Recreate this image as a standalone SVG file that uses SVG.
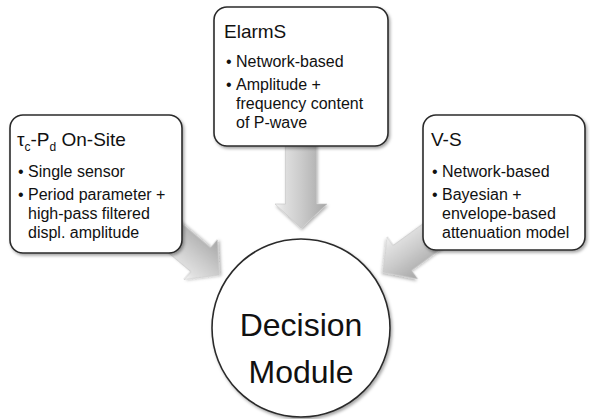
<svg xmlns="http://www.w3.org/2000/svg" width="590" height="419" viewBox="0 0 590 419">
  <defs>
    <linearGradient id="arrowFill" x1="0" y1="0" x2="1" y2="0">
      <stop offset="0" stop-color="#f4f4f4"/>
      <stop offset="0.18" stop-color="#e0e0e0"/>
      <stop offset="0.5" stop-color="#cbcbcb"/>
      <stop offset="1" stop-color="#a6a6a6"/>
    </linearGradient>
    <filter id="shadow" x="-20%" y="-20%" width="140%" height="140%">
      <feDropShadow dx="1.5" dy="2" stdDeviation="1.8" flood-color="#000" flood-opacity="0.35"/>
    </filter>
    <filter id="arrowShadow" x="-30%" y="-30%" width="160%" height="160%">
      <feDropShadow dx="1" dy="2" stdDeviation="1.5" flood-color="#000" flood-opacity="0.3"/>
    </filter>
    <!-- block arrow pointing down, tip at the origin -->
    <polygon id="blockArrow" points="-15.5,-110 15.5,-110 15.5,-24 26,-24 0,0 -26,-24 -15.5,-24"/>
    <style>
      .box { fill: #ffffff; stroke: #2b2b2b; stroke-width: 1.6; filter: url(#shadow); }
      .arrow { fill: url(#arrowFill); stroke: #c4c4c4; stroke-width: 0.6; filter: url(#arrowShadow); }
      .title { font-family: "Liberation Sans", Arial, sans-serif; font-size: 19px; fill: #111; }
      .item { font-family: "Liberation Sans", Arial, sans-serif; font-size: 16px; fill: #111; }
      .big { font-family: "Liberation Sans", Arial, sans-serif; font-size: 32px; fill: #111; text-anchor: middle; }
    </style>
  </defs>

  <g id="connectors">
    <use href="#blockArrow" class="arrow" transform="translate(301,228)"/>
    <use href="#blockArrow" class="arrow" transform="translate(219,275) rotate(-50)"/>
    <use href="#blockArrow" class="arrow" transform="translate(383,272) rotate(54)"/>
  </g>

  <g id="tc-pd-onsite">
    <rect class="box" x="10" y="115" width="172" height="138" rx="13"/>
    <text class="title" x="17" y="146">τ<tspan font-size="12" dy="5">c</tspan><tspan dy="-5">-P</tspan><tspan font-size="12" dy="5">d</tspan><tspan dy="-5"> On-Site</tspan></text>
    <text class="item" x="18" y="177">•</text>
    <text class="item" x="28" y="177">Single sensor</text>
    <text class="item" x="18" y="200">•</text>
    <text class="item" x="28" y="200">Period parameter +</text>
    <text class="item" x="28" y="219">high-pass filtered</text>
    <text class="item" x="28" y="238">displ. amplitude</text>
  </g>

  <g id="elarms">
    <rect class="box" x="214" y="7" width="174" height="139" rx="13"/>
    <text class="title" x="224" y="38">ElarmS</text>
    <text class="item" x="226" y="67">•</text>
    <text class="item" x="236" y="67">Network-based</text>
    <text class="item" x="226" y="90">•</text>
    <text class="item" x="236" y="90">Amplitude +</text>
    <text class="item" x="236" y="109">frequency content</text>
    <text class="item" x="236" y="128">of P-wave</text>
  </g>

  <g id="v-s">
    <rect class="box" x="423" y="115" width="162" height="135" rx="13"/>
    <text class="title" x="431" y="146">V-S</text>
    <text class="item" x="432" y="177">•</text>
    <text class="item" x="442" y="177">Network-based</text>
    <text class="item" x="432" y="200">•</text>
    <text class="item" x="442" y="200">Bayesian +</text>
    <text class="item" x="442" y="219">envelope-based</text>
    <text class="item" x="442" y="238">attenuation model</text>
  </g>

  <g id="decision-module">
    <circle class="box" cx="301" cy="328" r="89"/>
    <text class="big" x="301" y="336">Decision</text>
    <text class="big" x="301" y="383">Module</text>
  </g>
</svg>
